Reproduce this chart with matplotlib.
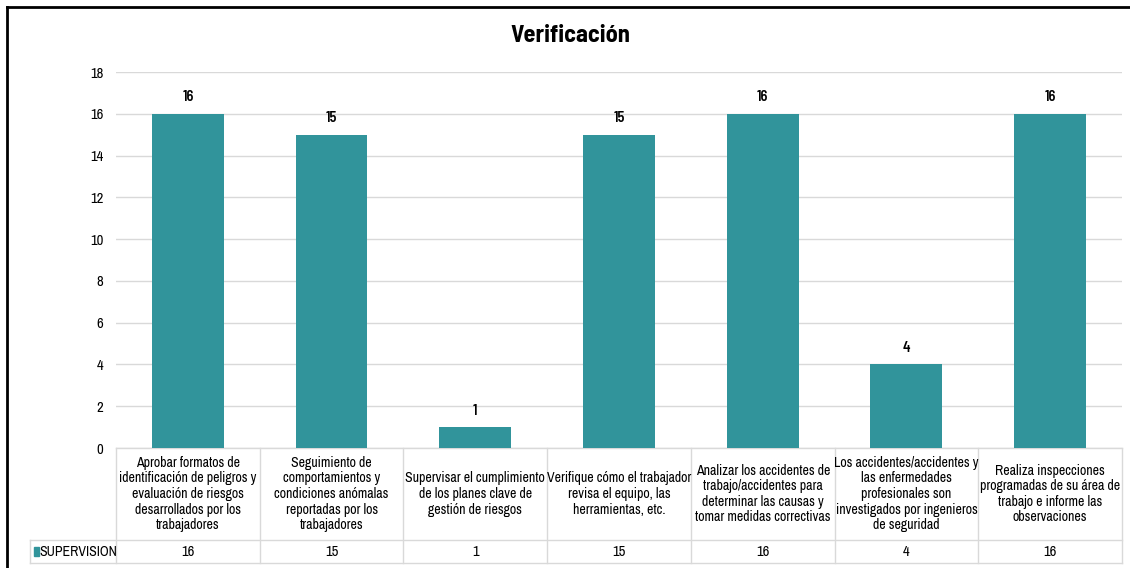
import matplotlib
matplotlib.use('Agg')
import matplotlib.pyplot as plt
from matplotlib.lines import Line2D
from matplotlib.patches import Rectangle

plt.rcParams['font.family'] = ['Archivo Narrow', 'Liberation Sans', 'DejaVu Sans']
BOLD = ['Barlow Semi Condensed', 'Liberation Sans', 'DejaVu Sans']

# data
categories = [
    'Aprobar formatos de\nidentificación de peligros y\nevaluación de riesgos\ndesarrollados por los\ntrabajadores',
    'Seguimiento de\ncomportamientos y\ncondiciones anómalas\nreportadas por los\ntrabajadores',
    'Supervisar el cumplimiento\nde los planes clave de\ngestión de riesgos',
    'Verifique cómo el trabajador\nrevisa el equipo, las\nherramientas, etc.',
    'Analizar los accidentes de\ntrabajo/accidentes para\ndeterminar las causas y\ntomar medidas correctivas',
    'Los accidentes/accidentes y\nlas enfermedades\nprofesionales son\ninvestigados por ingenieros\nde seguridad',
    'Realiza inspecciones\nprogramadas de su área de\ntrabajo e informe las\nobservaciones',
]
supervision = [16, 15, 1, 15, 16, 4, 16]
series_name = 'SUPERVISION'
yticks = [0, 2, 4, 6, 8, 10, 12, 14, 16, 18]

bar_color = '#31949b'
grid_color = '#d9d9d9'
W, H = 1130, 568

fig = plt.figure(figsize=(W / 100, H / 100), dpi=100)

# plot area in pixels
x0, x1 = 116, 1122
y_top, y_zero = 72, 448
ax = fig.add_axes([x0 / W, (H - y_zero) / H, (x1 - x0) / W, (y_zero - y_top) / H])

n = len(categories)
xs = list(range(n))
ax.bar(xs, supervision, width=0.5, color=bar_color, zorder=3)
for x, v in zip(xs, supervision):
    ax.text(x, v + 0.45, str(v), ha='center', va='bottom', fontsize=10.5,
            fontweight=600, family=BOLD)

ax.set_xlim(-0.5, n - 0.5)
ax.set_ylim(0, 18)
ax.set_yticks(yticks)
ax.tick_params(axis='y', length=0, labelsize=10.5, pad=9)
ax.set_xticks([])
ax.yaxis.grid(True, color=grid_color, linewidth=1, zorder=0)
for s in ax.spines.values():
    s.set_visible(False)

# data table under the axis
ax_h = y_zero - y_top
row_sep = -(540 - y_zero) / ax_h
tbl_bot = -(563 - y_zero) / ax_h
hdr_left = (30 - x0) / (x1 - x0) * n - 0.5

tr = ax.get_xaxis_transform()
kw = dict(color=grid_color, linewidth=1, clip_on=False, transform=tr)
ax.add_line(Line2D([-0.5, n - 0.5], [0, 0], **kw))
ax.add_line(Line2D([hdr_left, n - 0.5], [row_sep, row_sep], **kw))
ax.add_line(Line2D([hdr_left, n - 0.5], [tbl_bot, tbl_bot], **kw))
ax.add_line(Line2D([hdr_left, hdr_left], [row_sep, tbl_bot], **kw))
for b in range(n + 1):
    ax.add_line(Line2D([b - 0.5, b - 0.5], [0, tbl_bot], **kw))

for x, lab, v in zip(xs, categories, supervision):
    ax.text(x, row_sep / 2, lab, transform=tr, ha='center', va='center',
            fontsize=10, linespacing=1.15)
    ax.text(x, (row_sep + tbl_bot) / 2, str(v), transform=tr, ha='center',
            va='center', fontsize=10.5)

# legend key in header cell
ax.add_patch(Rectangle((hdr_left + 0.025, (row_sep + tbl_bot) / 2 - 0.011), 0.035, 0.022,
                       transform=tr, color=bar_color, clip_on=False))
ax.text(hdr_left + 0.065, (row_sep + tbl_bot) / 2, series_name, transform=tr,
        ha='left', va='center', fontsize=10)

fig.text(570 / W, 1 - 36 / H, 'Verificación', ha='center', va='center',
         fontsize=17.5, fontweight='bold', family=BOLD)

# outer frame: top and left edges only
fig.add_artist(Line2D([7 / W, 1], [1 - 7 / H, 1 - 7 / H], color='black', linewidth=2,
                      transform=fig.transFigure))
fig.add_artist(Line2D([7 / W, 7 / W], [0, 1 - 7 / H], color='black', linewidth=2,
                      transform=fig.transFigure))

fig.savefig('out.png', dpi=100)
